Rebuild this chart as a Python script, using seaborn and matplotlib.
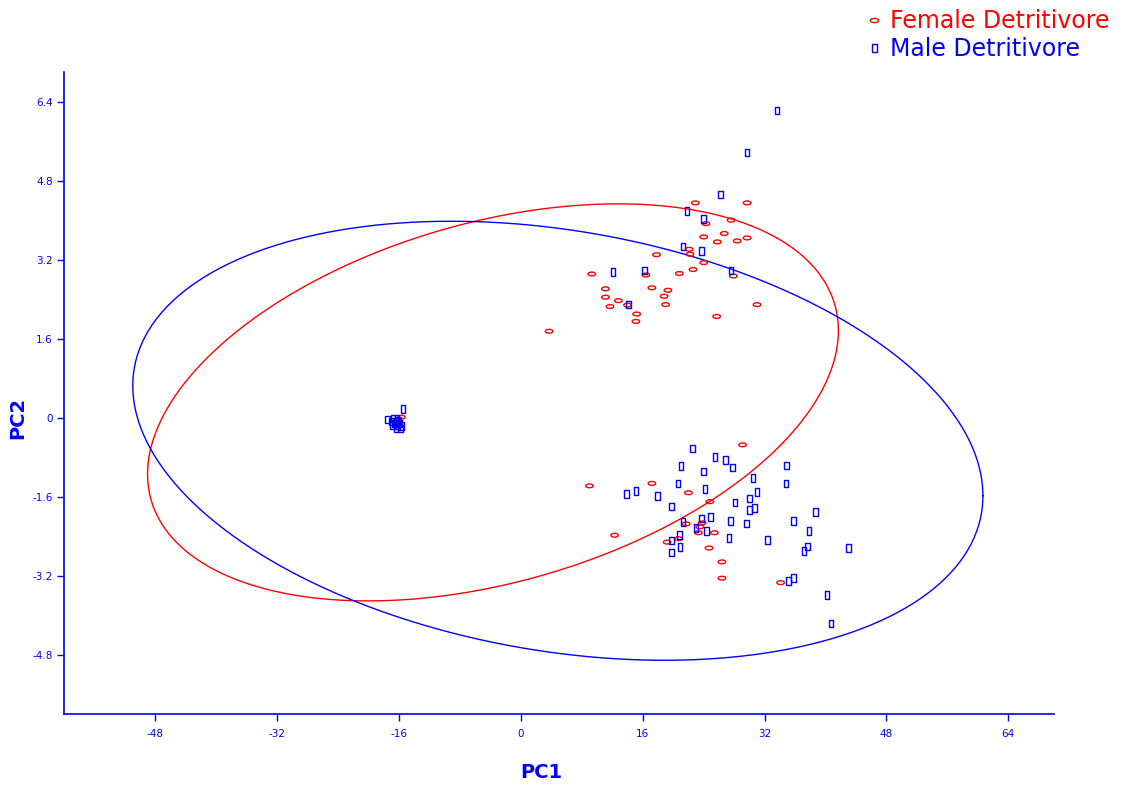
import numpy as np
import pandas as pd
import matplotlib
matplotlib.use("Agg")
import matplotlib.pyplot as plt
from matplotlib.lines import Line2D
import seaborn as sns

# ---------------- data ----------------
female_pc1 = [22.9, 29.7, 24.3, 27.6, 26.7, 24.0, 25.8, 28.4, 29.7, 22.1, 22.2, 24.0, 22.6, 17.8,
              9.3, 16.4, 20.8, 27.9, 11.1, 17.2, 19.3, 11.1, 12.8, 18.8, 11.7, 14.0, 19.0, 15.2,
              15.1, 31.0, 25.7, 3.7,
              29.1, 9.0, 17.2, 22.0, 24.8, 12.3, 21.7, 23.8, 23.5, 23.3, 25.4, 19.2, 20.7, 24.7,
              26.4, 26.4, 34.1,
              -15.7, -16.2]
female_pc2 = [4.35, 4.35, 3.93, 4.00, 3.73, 3.66, 3.56, 3.58, 3.64, 3.41, 3.31, 3.14, 3.00, 3.30,
              2.91, 2.89, 2.92, 2.87, 2.61, 2.63, 2.58, 2.44, 2.37, 2.46, 2.25, 2.28, 2.29, 2.10,
              1.95, 2.29, 2.05, 1.75,
              -0.55, -1.38, -1.33, -1.52, -1.70, -2.38, -2.15, -2.13, -2.21, -2.33, -2.33, -2.52,
              -2.45, -2.64, -2.92, -3.25, -3.34,
              0.01, -0.06]

male_pc1 = [33.6, 29.7, 26.2, 21.8, 24.0, 21.3, 23.7, 27.6, 12.1, 16.2, 14.1,
            22.5, 25.5, 26.9, 27.8, 21.0, 24.0, 34.9, 20.6, 30.5, 34.8, 24.2, 31.0, 13.9, 15.1,
            17.9, 30.0, 28.1, 19.8, 30.0, 30.7, 38.7, 24.9, 23.7, 27.5, 21.3, 29.6, 35.8, 23.0,
            24.4, 37.8, 20.8, 19.8, 27.3, 32.4, 20.9, 37.6, 37.2, 43.0, 19.8, 35.1, 35.8, 40.2,
            40.7,
            -17.5, -15.5, -17.0, -16.6, -16.2, -15.9, -16.4, -15.8, -16.8, -16.1, -16.9,
            -16.5, -15.7, -16.3]
male_pc2 = [6.22, 5.37, 4.52, 4.18, 4.02, 3.47, 3.37, 2.98, 2.95, 2.98, 2.29,
            -0.62, -0.80, -0.86, -1.01, -0.98, -1.09, -0.97, -1.33, -1.22, -1.33, -1.45, -1.51,
            -1.54, -1.48, -1.59, -1.64, -1.72, -1.80, -1.87, -1.83, -1.91, -2.01, -2.04, -2.09,
            -2.11, -2.14, -2.09, -2.23, -2.30, -2.30, -2.37, -2.49, -2.43, -2.48, -2.62, -2.61,
            -2.70, -2.64, -2.73, -3.31, -3.25, -3.59, -4.17,
            -0.04, 0.18, -0.08, -0.12, -0.16, -0.12, -0.22, -0.22, -0.02, -0.06, -0.16,
            -0.09, -0.17, -0.03]

# confidence ellipses (centre, half-range in PC1, half-range in PC2, phase in degrees)
ell_groups = ["Female Detritivore", "Male Detritivore"]
ell_cx = [-3.67, 4.85]
ell_cy = [0.31, -0.467]
ell_ax = [45.36, 55.82]
ell_by = [4.02, 4.445]
ell_phase = [68.8, 104.5]

x_ticks = [-48, -32, -16, 0, 16, 32, 48, 64]
y_ticks = [-4.8, -3.2, -1.6, 0, 1.6, 3.2, 4.8, 6.4]
y_tick_labels = ["-4.8", "-3.2", "-1.6", "0", "1.6", "3.2", "4.8", "6.4"]

# ---------------- style ----------------
sns.set_style("white")
plt.rcParams["font.family"] = ["DejaVu Sans"]

RED = "#ff0000"
BLUE = "#0000ff"

fig = plt.figure(figsize=(11.26, 7.90), dpi=100)
ax = fig.add_axes([64 / 1126, 1 - 714 / 790, (1054 - 64) / 1126, (714 - 72) / 790])

t = np.linspace(0, 2 * np.pi, 400)
ell_colors = [RED, BLUE]
for i in range(2):
    ex = ell_cx[i] + ell_ax[i] * np.cos(t)
    ey = ell_cy[i] + ell_by[i] * np.cos(t - np.deg2rad(ell_phase[i]))
    ax.plot(ex, ey, color=ell_colors[i], lw=1.0, zorder=2)

# custom markers
th = np.linspace(0, 2 * np.pi, 25)
ellipse_marker = np.column_stack([np.cos(th), 0.5 * np.sin(th)])
rect_marker = np.array([[-0.3, -0.5], [0.3, -0.5], [0.3, 0.5], [-0.3, 0.5], [-0.3, -0.5]])

df_f = pd.DataFrame({"PC1": female_pc1, "PC2": female_pc2})
df_m = pd.DataFrame({"PC1": male_pc1, "PC2": male_pc2})

sns.scatterplot(data=df_f, x="PC1", y="PC2", ax=ax, marker=ellipse_marker, s=30,
                color=RED, facecolor="none", edgecolor=RED, linewidth=1.0, zorder=3)
sns.scatterplot(data=df_m, x="PC1", y="PC2", ax=ax, marker=rect_marker, s=30,
                color=BLUE, facecolor="none", edgecolor=BLUE, linewidth=1.0, zorder=3)

ax.set_xlim(-60, 70)
ax.set_ylim(-6, 7)
ax.set_xticks(x_ticks)
ax.set_xticklabels([str(v) for v in x_ticks])
ax.set_yticks(y_ticks)
ax.set_yticklabels(y_tick_labels)

for side in ["top", "right"]:
    ax.spines[side].set_visible(False)
for side in ["left", "bottom"]:
    ax.spines[side].set_color(BLUE)
    ax.spines[side].set_linewidth(1.2)

ax.tick_params(axis="both", direction="out", length=5, width=1, color=BLUE,
               labelcolor=BLUE, labelsize=7.5, left=True, bottom=True)
ax.tick_params(axis="x", pad=6)
ax.tick_params(axis="y", pad=3)

ax.set_xlabel("PC1", color=BLUE, fontsize=14, fontweight="bold")
ax.set_ylabel("PC2", color=BLUE, fontsize=14, fontweight="bold")
ax.xaxis.set_label_coords((541 - 64) / 990, (714 - 763) / 642)
ax.yaxis.set_label_coords((27 - 64) / 990, (714 - 418) / 642)

handles = [
    Line2D([], [], linestyle="none", marker=ellipse_marker, markersize=6,
           markerfacecolor="none", markeredgecolor=RED, markeredgewidth=1.0),
    Line2D([], [], linestyle="none", marker=rect_marker, markersize=6,
           markerfacecolor="none", markeredgecolor=BLUE, markeredgewidth=1.0),
]
leg = ax.legend(handles, ell_groups, loc="upper left", bbox_to_anchor=(868 / 1126, 1 - 9 / 790),
                bbox_transform=fig.transFigure, frameon=False, fontsize=17,
                handlelength=0.5, handletextpad=0.45, labelspacing=0.16, borderpad=0,
                borderaxespad=0)
for txt, c in zip(leg.get_texts(), ell_colors):
    txt.set_color(c)

fig.savefig("out.png", dpi=100)
